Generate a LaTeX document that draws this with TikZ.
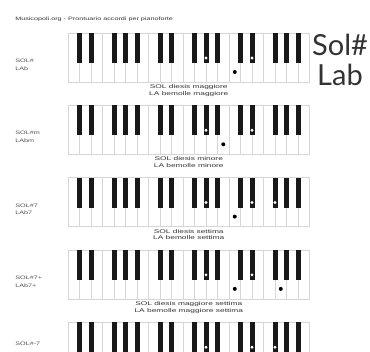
\documentclass[tikz,border=0pt]{standalone}
\usepackage{fontspec}
\setmainfont{Liberation Sans}
\newfontfamily\labfont{Lato}
\usetikzlibrary{calc}
\usepackage{xcolor}
\definecolor{keyline}{HTML}{D6D6D6}
\definecolor{inktext}{HTML}{333333}
\tikzset{
    caption/.style={font=\fontsize{5.4}{6.6}\selectfont, xscale=1.55, align=center, anchor=north, text=inktext, inner sep=0pt},
    chordname/.style={font=\fontsize{5}{7.5}\selectfont, xscale=1.45, align=left, anchor=north west, text=inktext!85, inner sep=0pt},
    pagetitle/.style={font=\fontsize{4.8}{5}\selectfont, xscale=1.5, anchor=west, text=inktext, inner sep=0pt},
}

\begin{document}
\begin{tikzpicture}[x=1pt,y=-1pt]
        \useasboundingbox (0,0) rectangle (370,352);
        \clip (0,0) rectangle (370,352);
        \pgfmathsetmacro{\kw}{11.5}
        \node[pagetitle] (title) at (15,19) {Musicopoli.org - Prontuario accordi per pianoforte};
        \node[font=\labfont\fontsize{29}{30}\selectfont, text=inktext, align=center, inner sep=0pt] (brand) at (340,60) {Sol\#\\Lab};
        \foreach \r/\name/\line/\blk/\wht in {0/{SOL\#\\LAb}/{SOL diesis maggiore\\LA bemolle maggiore}/{12,16}/{14},
                1/{SOL\#m\\LAbm}/{SOL diesis minore\\LA bemolle minore}/{12,16}/{13},
                2/{SOL\#7\\LAb7}/{SOL diesis settima\\LA bemolle settima}/{12,16,18}/{14},
                3/{SOL\#7+\\LAb7+}/{SOL diesis maggiore settima\\LA bemolle maggiore settima}/{12,16}/{14,18},
                4/{SOL\#-7}/{}/{12,16,18}/{}}{
            \pgfmathsetmacro{\ktop}{33+72.3*\r}
            \pgfmathsetmacro{\noff}{\r==4 ? 20 : 26}
            \foreach \k in {0,...,20}
                \draw[keyline,line width=0.4pt] (68+\k*\kw,\ktop) rectangle ++(\kw,49);
            \foreach \k in {0,...,19}{
                \pgfmathtruncatemacro{\n}{mod(\k,7)}
                \ifnum\n=2\else\ifnum\n=6\else
                    \fill[black!90] (68+\k*\kw+\kw-2.5,\ktop) rectangle ++(5,30);
                \fi\fi
            }
            \foreach \b in \blk
                \fill[white] (68+\b*\kw,\ktop+25) circle (1.6);
            \foreach \k in \wht
                \fill[black] (68+\k*\kw+\kw/2,\ktop+39) circle (2);
            \node[chordname] (name\r) at (15,\ktop+\noff) {\name};
            \ifnum\r<4
                \node[caption] (cap\r) at (188.75,\ktop+51.5) {\line};
            \fi
            }
    \end{tikzpicture}
\end{document}
